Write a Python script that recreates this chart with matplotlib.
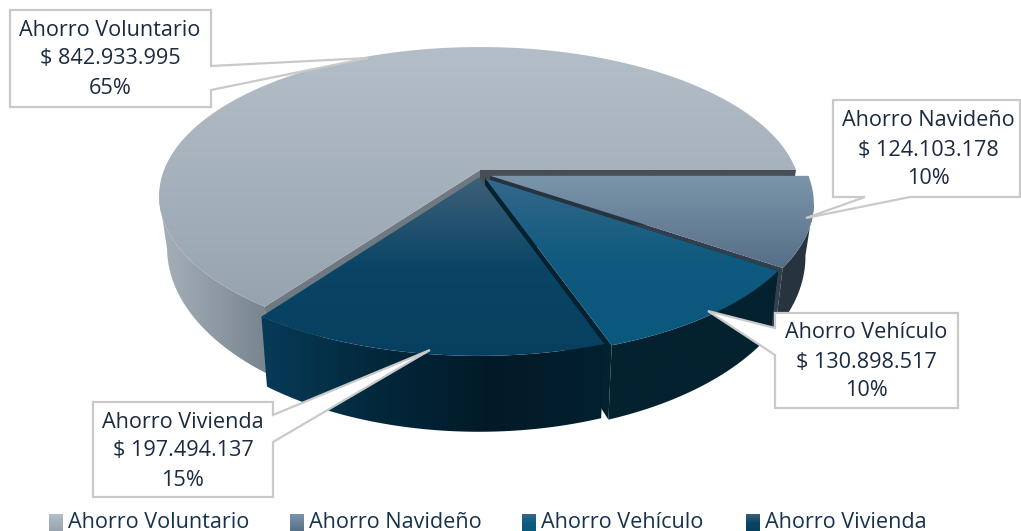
#!/usr/bin/python
# -*- coding: utf-8 -*-

import numpy as np
import matplotlib
matplotlib.use("Agg")
import matplotlib.pyplot as plt
from matplotlib.colors import LinearSegmentedColormap
from matplotlib.patches import Polygon

names = ["Ahorro Voluntario", "Ahorro Navideño", "Ahorro Vehículo", "Ahorro Vivienda"]
values = [842933995, 124103178, 130898517, 197494137]
percents = ["65%", "10%", "10%", "15%"]

plt.rcParams['font.family'] = ['Open Sans', 'DejaVu Sans']
TXT = '#1a2b40'

# perspective of the pie, in image pixels
CX, CY = 480, 170
RX, RY, K = 316, 144.5, 0.175
DROP, SX, SY = 48, 0.975, 1.15

# how far each slice is pulled out, in pie radii
shift = [(0, 0), (0.032, 0.04), (0.016, 0.056), (-0.003, 0.05)]
top_cols = [['#b4bec8', '#97a4b0'],
            ['#7b95aa', '#566f88'],
            ['#35688b', '#0f5a7e', '#0b587d'],
            ['#3e6079', '#0a4566', '#07405f']]
side_cols = [['#a8b1ba', '#76828c'],
             ['#27343f', '#27343f'],
             ['#04212f', '#04212f'],
             ['#063b58', '#03283c', '#021a28', '#03202f']]
wall_cols = [['#474e55', '#6f7982'], ['#333f4c', '#27343f'], ['#04212f', '#04212f'], None]

fig = plt.figure(figsize=(10.21, 5.31), dpi=100)
ax = fig.add_axes([0, 0, 1, 1])
ax.axis('off')
zz = [2]


def proj(u, v, low=False):
    w = 1 - K*v
    x = RX*u/w
    y = RY*v/w
    if low:
        return CX + SX*x, CY + DROP + SY*y
    return CX + x, CY + y


def fill(xs, ys, cols, horizontal=False):
    zz[0] += 1
    poly = Polygon(np.c_[xs, ys], closed=True, fc='none', ec='none', zorder=zz[0])
    ax.add_patch(poly)
    cm = LinearSegmentedColormap.from_list('g', cols)
    ramp = np.linspace(0, 1, 256)
    ramp = ramp[None, :] if horizontal else ramp[:, None]
    im = ax.imshow(ramp, cmap=cm, vmin=0, vmax=1, aspect='auto', origin='upper',
                   extent=(min(xs), max(xs), max(ys), min(ys)), zorder=zz[0],
                   interpolation='bilinear')
    im.set_clip_path(poly)


def wedge(i, t0, t1):
    deg = np.linspace(t0, t1, 300)
    t = np.radians(deg)
    du, dv = shift[i]
    u = du + np.cos(t)
    v = dv - np.sin(t)

    # walls of the cut, seen through the gaps
    if wall_cols[i] is not None:
        for tt, col in zip((t1, t0), wall_cols[i]):
            a = np.radians(tt)
            x0, y0 = proj(du, dv)
            x1, y1 = proj(du + np.cos(a), dv - np.sin(a))
            x2, y2 = proj(du + np.cos(a), dv - np.sin(a), True)
            x3, y3 = proj(du, dv, True)
            fill([x0, x1, x2, x3], [y0, y1, y2, y3], [col, col])

    xa, ya = proj(u, v)

    # outer side, only the part that faces the viewer
    lim = np.degrees(np.arcsin(K))
    wrapped = np.where(deg > 0, deg - 360, deg)
    front = (wrapped >= -180 + lim) & (wrapped <= -lim)
    xt, yt = proj(u[front], v[front])
    xb, yb = proj(u[front], v[front], True)
    fill(np.r_[xt, xb[::-1]], np.r_[yt, yb[::-1]], side_cols[i], True)

    # top
    x0, y0 = proj(du, dv)
    fill(np.r_[x0, xa], np.r_[y0, ya], top_cols[i])


total = float(sum(values))
start = 360*values[0]/total
for i, val in enumerate(values):
    end = start - 360*val/total
    wedge(i, start, end)
    start = end


def callout(pts, text, tx, ty):
    ax.add_patch(Polygon(pts, closed=True, fc='white', ec='#c9c9c9', lw=1.6, zorder=100, joinstyle='miter'))
    ax.text(tx, ty, text, ha='center', va='center', fontsize=15.6, color=TXT,
            linespacing=1.5, zorder=101)


def label(i):
    return "%s\n$ %s\n%s" % (names[i], format(values[i], ',').replace(',', '.'), percents[i])


callout([(10, 10), (211, 10), (211, 66), (368, 58), (211, 90), (211, 107), (10, 107)], label(0), 110, 59)
callout([(833, 100), (1020, 100), (1020, 197), (910, 197), (806, 218), (865, 197), (833, 197)], label(1), 928, 150)
callout([(775, 313), (958, 313), (958, 408), (775, 408), (775, 355), (708, 311), (775, 328)], label(2), 866, 362)
callout([(93, 402), (273, 402), (273, 415), (430, 350), (273, 442), (273, 497), (93, 497)], label(3), 183, 451)

# legend
leg_x = [49, 290, 522, 746]
for i, x in enumerate(leg_x):
    zz[0] = 110
    fill([x, x + 14, x + 14, x], [514, 514, 531, 531], top_cols[i])
    ax.text(x + 19, 528, names[i], ha='left', va='baseline', fontsize=15.6, color='#17324f', zorder=120)

ax.set_xlim(0, 1021)
ax.set_ylim(531, 0)
plt.savefig("out.png", dpi=100)
